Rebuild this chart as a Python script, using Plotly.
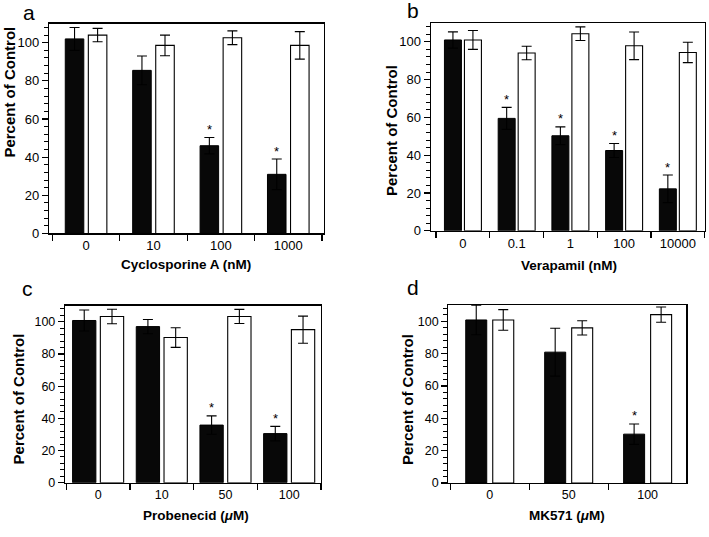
import plotly.graph_objects as go

W, H = 709, 537
FONT = "Liberation Sans, Arial, Helvetica, sans-serif"

# ---------------- data ----------------
a_cats = ['0', '10', '100', '1000']
a_black = [102, 85.5, 46, 31]
a_black_err = [6, 7.5, 4.3, 8]
a_white = [104, 98.6, 102.6, 98.6]
a_white_err = [3.5, 5.4, 3.6, 7.2]
a_stars = [False, False, True, True]

b_cats = ['0', '0.1', '1', '100', '10000']
b_black = [101, 59.5, 50.3, 42.5, 22.2]
b_black_err = [4.3, 5.8, 4.7, 3.7, 7.3]
b_white = [101, 94.1, 104.3, 97.9, 94.4]
b_white_err = [5, 3.6, 3.6, 7.3, 5.4]
b_stars = [False, True, True, True, True]

c_cats = ['0', '10', '50', '100']
c_black = [100.8, 97, 35.8, 30.5]
c_black_err = [6.5, 4.4, 5.7, 4.5]
c_white = [103.3, 90.2, 103.3, 95.1]
c_white_err = [4.5, 6.1, 4.4, 8.4]
c_stars = [False, False, True, True]

d_cats = ['0', '50', '100']
d_black = [100.8, 80.9, 30.2]
d_black_err = [9.1, 14.8, 6.3]
d_white = [100.8, 95.9, 104.1]
d_white_err = [6.4, 4.4, 4.7]
d_stars = [False, False, True]

panels = [
    dict(letter='a', cats=a_cats, black=a_black, berr=a_black_err, white=a_white, werr=a_white_err,
         stars=a_stars, xtitle='Cyclosporine A (nM)',
         box=(49, 324, 24, 237), xr=[-0.55, 3.53], w=0.275, g=0.067,
         ytitle_pos=(9.5, 93.5), xtitle_pos=(186.5, 269), letter_pos=(29, 12.5), tfs=13),
    dict(letter='b', cats=b_cats, black=b_black, berr=b_black_err, white=b_white, werr=b_white_err,
         stars=b_stars, xtitle='Verapamil (nM)',
         box=(430.7, 704.7, 23.3, 234.3), xr=[-0.6, 4.5], w=0.316, g=0.056,
         ytitle_pos=(391.5, 132.5), xtitle_pos=(569, 270), letter_pos=(413, 10.5), tfs=13),
    dict(letter='c', cats=c_cats, black=c_black, berr=c_black_err, white=c_white, werr=c_white_err,
         stars=c_stars, xtitle='Probenecid (<i>μ</i>M)',
         box=(65, 321, 310.3, 490), xr=[-0.52, 3.5], w=0.366, g=0.07,
         ytitle_pos=(18, 405.5), xtitle_pos=(195.5, 523), letter_pos=(27.5, 292.5), tfs=12.5),
    dict(letter='d', cats=d_cats, black=d_black, berr=d_black_err, white=d_white, werr=d_white_err,
         stars=d_stars, xtitle='MK571 (<i>μ</i>M)',
         box=(448.3, 686.3, 309.7, 490.3), xr=[-0.525, 2.49], w=0.266, g=0.076,
         ytitle_pos=(407.5, 405.5), xtitle_pos=(567, 523), letter_pos=(412.5, 291.5), tfs=12.5),
]


def px(x):
    return x / W


def py(y):
    return 1 - y / H


fig = go.Figure()
annotations = []
layout = {}

for i, p in enumerate(panels):
    n = i + 1
    xa = 'x' if n == 1 else f'x{n}'
    ya = 'y' if n == 1 else f'y{n}'
    xkey = 'xaxis' if n == 1 else f'xaxis{n}'
    ykey = 'yaxis' if n == 1 else f'yaxis{n}'
    ya_minor = f'y{n + 4}'
    ykey_minor = f'yaxis{n + 4}'
    w, g = p['w'], p['g']
    err_style = dict(type='data', visible=True, color='black', thickness=1.1, width=5)
    fig.add_trace(go.Bar(
        x=p['cats'], y=p['black'], xaxis=xa, yaxis=ya,
        width=w, offset=-(w + g / 2),
        marker=dict(color='#080808', line=dict(color='black', width=1)),
        error_y=dict(array=p['berr'], **err_style), showlegend=False))
    fig.add_trace(go.Bar(
        x=p['cats'], y=p['white'], xaxis=xa, yaxis=ya,
        width=w, offset=g / 2,
        marker=dict(color='white', line=dict(color='black', width=1.1)),
        error_y=dict(array=p['werr'], **err_style), showlegend=False))
    # empty trace so that the minor-tick overlay axis is drawn
    fig.add_trace(go.Scatter(x=[], y=[], xaxis=xa, yaxis=ya_minor,
                             showlegend=False, hoverinfo='skip'))

    x0, x1, y0, y1 = p['box']
    layout[xkey] = dict(
        domain=[px(x0), px(x1)], anchor=ya, type='category', range=p['xr'],
        categoryorder='array', categoryarray=p['cats'],
        tickson='boundaries', ticks='outside', ticklen=6, tickwidth=1.2, tickcolor='black',
        showline=True, linecolor='black', linewidth=1.2, mirror=True,
        showgrid=False, zeroline=False,
        tickfont=dict(family=FONT, size=p['tfs'], color='black'))
    layout[ykey] = dict(
        domain=[py(y1), py(y0)], anchor=xa, range=[0, 110],
        tick0=0, dtick=20, ticks='outside', ticklen=6, tickwidth=1.2, tickcolor='black',
        minor=dict(dtick=4, tick0=0, ticks='outside', ticklen=4, tickwidth=1,
                   tickcolor='black', showgrid=False),
        showline=True, linecolor='black', linewidth=1.2, mirror=True,
        showgrid=False, zeroline=False,
        tickfont=dict(family=FONT, size=p['tfs'], color='black'))
    # overlay axis carrying the small minor ticks every 4 units
    layout[ykey_minor] = dict(
        overlaying=ya, anchor=xa, side='left', range=[0, 110],
        tick0=0, dtick=4, ticks='outside', ticklen=4, tickwidth=1, tickcolor='black',
        showticklabels=False, showline=False, showgrid=False, zeroline=False)

    # significance stars above black bars
    for k, s in enumerate(p['stars']):
        if s:
            annotations.append(dict(
                x=k - g / 2 - w / 2, y=p['black'][k] + p['berr'][k], xref=xa, yref=ya,
                text='*', showarrow=False, yanchor='middle', xanchor='center', yshift=8,
                font=dict(family=FONT, size=13, color='black')))

    # axis titles and panel letter
    tx, ty = p['ytitle_pos']
    annotations.append(dict(x=px(tx), y=py(ty), xref='paper', yref='paper',
                            text='<b>Percent of Control</b>', textangle=-90, showarrow=False,
                            xanchor='center', yanchor='middle',
                            font=dict(family=FONT, size=15, color='black')))
    tx, ty = p['xtitle_pos']
    annotations.append(dict(x=px(tx), y=py(ty), xref='paper', yref='paper',
                            text='<b>' + p['xtitle'] + '</b>', showarrow=False,
                            xanchor='center', yanchor='middle',
                            font=dict(family=FONT, size=13.5, color='black')))
    tx, ty = p['letter_pos']
    annotations.append(dict(x=px(tx), y=py(ty), xref='paper', yref='paper',
                            text=p['letter'], showarrow=False,
                            xanchor='center', yanchor='middle',
                            font=dict(family=FONT, size=21, color='black')))

fig.update_layout(
    width=W, height=H, margin=dict(l=0, r=0, t=0, b=0),
    paper_bgcolor='white', plot_bgcolor='white',
    barmode='overlay', showlegend=False, hovermode=False,
    annotations=annotations, **layout)

# the page's default 8 px body margin would shift the figure inside the window
fig.write_html("out.html",
               config={'displayModeBar': False, 'staticPlot': True},
               post_script="document.body.style.margin='0';document.body.style.padding='0';")
